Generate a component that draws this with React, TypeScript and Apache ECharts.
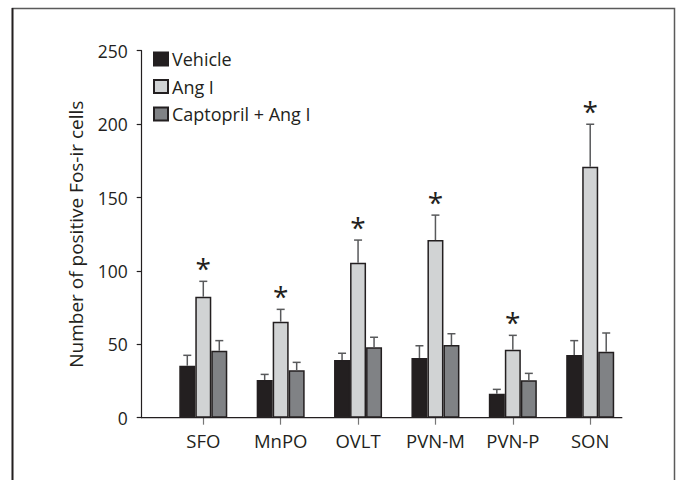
import React, { useEffect, useRef } from "react";
import * as echarts from "echarts";

const categories = ["SFO", "MnPO", "OVLT", "PVN-M", "PVN-P", "SON"];
const seriesNames = ["Vehicle", "Ang I", "Captopril + Ang I"];
const vehicle = [35.4, 25.7, 39.3, 40.7, 16.3, 42.7];
const vehicleErr = [7.1, 3.8, 4.6, 8.3, 3.0, 9.8];
const angI = [82.4, 65.4, 105.6, 121, 46.3, 171];
const angIErr = [10.5, 8.4, 15.4, 17, 9.8, 28.9];
const captopril = [45.6, 32.3, 48, 49.5, 25.5, 45];
const captoprilErr = [6.9, 5.4, 6.8, 7.7, 4.7, 12.7];
const angISignificant = [true, true, true, true, true, true];
const yTicks = [0, 50, 100, 150, 200, 250];

const colors = ["#231f20", "#d1d3d4", "#808285"];
const FONT = "'Open Sans', sans-serif";

export default function App() {
  const ref = useRef<HTMLDivElement>(null);
  useEffect(() => {
    document.body.style.margin = "0";
    const chart = echarts.init(ref.current!, undefined, { renderer: "svg" });
    const values = [vehicle, angI, captopril];
    const errs = [vehicleErr, angIErr, captoprilErr];
    const errData: any[] = [];
    values.forEach((arr, s) => {
      arr.forEach((v, i) => {
        const star = s === 1 && angISignificant[i] ? 1 : 0;
        errData.push([i, s, v, errs[s][i], star]);
      });
    });
    const barW = 16;
    const option: any = {
      animation: false,
      textStyle: { fontFamily: FONT },
      grid: { left: 164.6, right: 49.1, top: 50.7, bottom: 62.3, containLabel: false },
      legend: {
        orient: "vertical",
        left: 153,
        top: 50,
        padding: 0,
        itemWidth: 14,
        itemHeight: 13,
        itemGap: 9.5,
        icon: "rect",
        textStyle: { fontSize: 18, color: "#231f20", fontFamily: FONT, padding: [0, 0, 0, -1] },
        data: seriesNames,
      },
      xAxis: {
        type: "category",
        data: categories,
        axisLine: { show: false },
        axisTick: { show: true, interval: 0, alignWithLabel: true, length: 7, lineStyle: { color: "#777", width: 1.2 } },
        axisLabel: { interval: 0, fontSize: 18.5, color: "#231f20", margin: 13, fontFamily: FONT },
      },
      yAxis: {
        type: "value",
        min: yTicks[0],
        max: yTicks[yTicks.length - 1],
        interval: 50,
        offset: 22.9,
        name: "Number of positive Fos-ir cells",
        nameLocation: "middle",
        nameGap: 56,
        nameTextStyle: { fontSize: 19, color: "#231f20", fontFamily: FONT },
        splitLine: { show: false },
        axisLine: { show: true, lineStyle: { color: "#231f20", width: 1.2 } },
        axisTick: { show: true, length: 5, lineStyle: { color: "#231f20", width: 1.2 } },
        axisLabel: { fontSize: 17.5, color: "#231f20", margin: 14, fontFamily: FONT },
      },
      graphic: [
        {
          type: "rect",
          shape: { x: 12.5, y: 8.5, width: 662, height: 500 },
          style: { fill: "none", stroke: "#5a5a5a", lineWidth: 1.5 },
          silent: true,
        },
        {
          type: "line",
          shape: { x1: 12.5, y1: 8, x2: 12.5, y2: 480 },
          style: { stroke: "#231f20", lineWidth: 1.8 },
          silent: true,
        },
        {
          type: "line",
          shape: { x1: 141.7, y1: 417.7, x2: 622.3, y2: 417.7 },
          style: { stroke: "#231f20", lineWidth: 1.2 },
          silent: true,
          z: 10,
        },
      ],
      series: [
        ...values.map((arr, s) => ({
          type: "bar",
          name: seriesNames[s],
          data: arr,
          barWidth: barW,
          barGap: "0%",
          itemStyle: { color: colors[s], borderColor: "#231f20", borderWidth: 1.5 },
          z: 2,
        })),
        {
          type: "custom",
          name: "errors",
          data: errData,
          encode: { x: 0, y: 2 },
          z: 3,
          renderItem: (params: any, api: any) => {
            const cat = api.value(0);
            const s = api.value(1);
            const v = api.value(2);
            const e = api.value(3);
            const star = api.value(4);
            const base = api.coord([cat, v]);
            const top = api.coord([cat, v + e]);
            const x = base[0] + (s - 1) * barW;
            const children: any[] = [
              {
                type: "line",
                shape: { x1: x, y1: base[1], x2: x, y2: top[1] },
                style: { stroke: "#58595b", lineWidth: 1.5 },
              },
              {
                type: "line",
                shape: { x1: x - 4, y1: top[1], x2: x + 4, y2: top[1] },
                style: { stroke: "#58595b", lineWidth: 1.5 },
              },
            ];
            if (star) {
              children.push({
                type: "text",
                x: x,
                y: top[1] - 13,
                style: {
                  text: "*",
                  fontSize: 28,
                  fontFamily: FONT,
                  fill: "#231f20",
                  align: "center",
                  verticalAlign: "middle",
                },
              });
            }
            return { type: "group", children };
          },
        },
      ],
    };
    chart.setOption(option);
    return () => chart.dispose();
  }, []);
  return (
    <div
      ref={ref}
      style={{ position: "absolute", left: 0, top: 0, width: 678, height: 480, background: "#fff" }}
    />
  );
}
